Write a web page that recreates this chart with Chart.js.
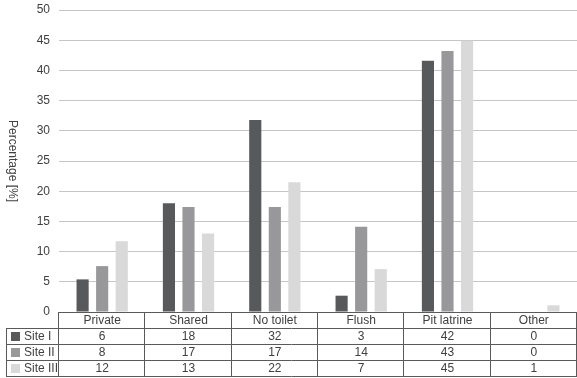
<!DOCTYPE html>
<html>
<head>
<meta charset="utf-8">
<title>Toilet type by site</title>
<script src="https://cdn.jsdelivr.net/npm/chart.js@4"></script>
<style>
    html, body { margin: 0; padding: 0; background: #fff; }
    #wrap { width: 577px; height: 378px; position: relative; }
</style>
</head>
<body>
<div id="wrap"><canvas id="myChart"></canvas></div>
<script>
// categories and series (bar heights)
var categories = ["Private", "Shared", "No toilet", "Flush", "Pit latrine", "Other"];
var siteNames = ["Site I", "Site II", "Site III"];
var siteI = [5.4, 18.0, 31.8, 2.7, 41.6, 0];
var siteII = [7.6, 17.4, 17.4, 14.1, 43.2, 0];
var siteIII = [11.7, 13.0, 21.5, 7.1, 44.9, 1.1];

// values printed in the data table
var tableSiteI = ["6", "18", "32", "3", "42", "0"];
var tableSiteII = ["8", "17", "17", "14", "43", "0"];
var tableSiteIII = ["12", "13", "22", "7", "45", "1"];

var yTicks = [0, 5, 10, 15, 20, 25, 30, 35, 40, 45, 50];
var barColors = ["#58595b", "#98989a", "#d9d9d9"];

var fontFamily = "'Liberation Sans', Arial, Helvetica, sans-serif";

// data table under the plot, lined up with the x scale
const tablePlugin = {
    id: 'dataTable',
    afterDraw(chart) {
        const ctx = chart.ctx;
        const xs = chart.scales.x;
        const area = chart.chartArea;
        const rowH = 16;
        const top = area.bottom;
        const step = xs.getPixelForValue(1) - xs.getPixelForValue(0);
        const left = xs.getPixelForValue(0) - step / 2;
        const right = left + step * categories.length;
        const keyLeft = 6;
        const rows = [tableSiteI, tableSiteII, tableSiteIII];

        ctx.save();
        ctx.strokeStyle = "#5a5a5a";
        ctx.lineWidth = 1;
        ctx.beginPath();
        // header row
        ctx.moveTo(left, top + 0.5);
        ctx.lineTo(right, top + 0.5);
        for (let r = 1; r <= rows.length + 1; r++) {
            const y = Math.round(top + r * rowH) + 0.5;
            ctx.moveTo(keyLeft, y);
            ctx.lineTo(right, y);
        }
        // vertical lines
        for (let c = 0; c <= categories.length; c++) {
            const x = Math.round(left + c * step) - 0.5;
            ctx.moveTo(x, top);
            ctx.lineTo(x, top + rowH * (rows.length + 1));
        }
        ctx.moveTo(keyLeft + 0.5, top + rowH);
        ctx.lineTo(keyLeft + 0.5, top + rowH * (rows.length + 1));
        ctx.stroke();

        ctx.font = "12px " + fontFamily;
        ctx.fillStyle = "#404040";
        ctx.textAlign = "center";
        ctx.textBaseline = "middle";
        categories.forEach((c, i) => {
            ctx.fillText(c, xs.getPixelForValue(i), top + rowH / 2 + 1);
        });
        rows.forEach((row, r) => {
            const yMid = top + rowH * (r + 1) + rowH / 2 + 1;
            row.forEach((v, i) => {
                ctx.fillText(v, xs.getPixelForValue(i), yMid);
            });
            // legend key
            ctx.fillStyle = barColors[r];
            ctx.fillRect(11, yMid - 5, 9, 9);
            ctx.fillStyle = "#404040";
            ctx.textAlign = "left";
            ctx.fillText(siteNames[r], 24, yMid);
            ctx.textAlign = "center";
        });
        ctx.restore();
    }
};

// y title reads top to bottom
const yTitlePlugin = {
    id: 'yTitle',
    afterDraw(chart) {
        const ctx = chart.ctx;
        const area = chart.chartArea;
        ctx.save();
        ctx.translate(12, (area.top + area.bottom) / 2);
        ctx.rotate(Math.PI / 2);
        ctx.font = "12px " + fontFamily;
        ctx.fillStyle = "#404040";
        ctx.textAlign = "center";
        ctx.textBaseline = "middle";
        ctx.fillText("Percentage [%]", 0, 0);
        ctx.restore();
    }
};

new Chart("myChart", {
    type: "bar",
    data: {
        labels: categories,
        datasets: [
            { label: siteNames[0], data: siteI, backgroundColor: barColors[0] },
            { label: siteNames[1], data: siteII, backgroundColor: barColors[1] },
            { label: siteNames[2], data: siteIII, backgroundColor: barColors[2] }
        ]
    },
    options: {
        responsive: true,
        maintainAspectRatio: false,
        animation: false,
        layout: { padding: { top: 10, right: 0, bottom: 66, left: 0 } },
        datasets: {
            bar: { categoryPercentage: 0.68, barPercentage: 0.62, borderWidth: 0 }
        },
        plugins: {
            legend: { display: false },
            tooltip: { enabled: false }
        },
        scales: {
            x: {
                display: false
            },
            y: {
                min: 0,
                max: 50,
                afterBuildTicks: function (s) {
                    s.ticks = yTicks.map(v => ({ value: v }));
                },
                afterFit: function (s) {
                    s.width = 59;
                    s.paddingTop = 0;
                    s.paddingBottom = 0;
                },
                border: { display: false },
                grid: { color: "#c6c6c6", lineWidth: 1, drawTicks: false },
                ticks: {
                    padding: 9,
                    color: "#404040",
                    font: { size: 12, family: fontFamily }
                }
            }
        }
    },
    plugins: [tablePlugin, yTitlePlugin]
});
</script>
</body>
</html>
